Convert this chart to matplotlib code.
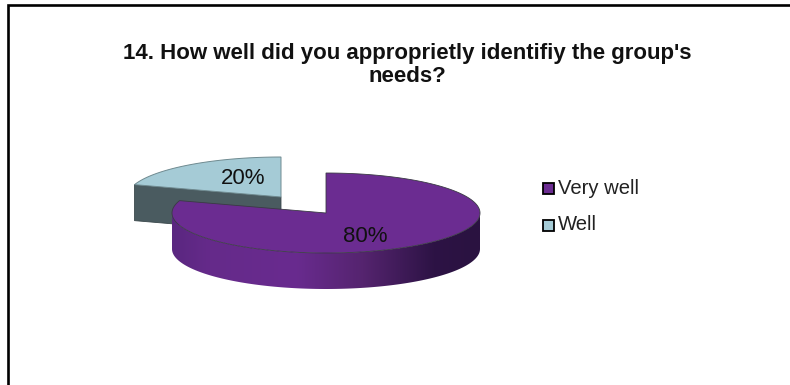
import numpy as np
import matplotlib
matplotlib.use('Agg')
import matplotlib.pyplot as plt
from matplotlib.colors import LinearSegmentedColormap
from matplotlib.patches import Polygon, Rectangle

title_lines = ["14. How well did you approprietly identifiy the group's", "needs?"]
categories = ['Very well', 'Well']
shares = [80, 20]
top_colors = ['#6b2c91', '#a5cbd6']
side_color_well = '#4a5b60'

plt.rcParams['font.family'] = ['Liberation Sans', 'DejaVu Sans']

# pie geometry, in pixels
RX, RY, DEPTH = 154, 40, 36
CENTER_VERY_WELL = (326, 213)
CENTER_WELL = (281, 197)
EDGE = '#3a3a44'


def rim(center, start, stop, drop=0):
    # points along the elliptical rim, angles in degrees clockwise from 12 o'clock
    t = np.radians(90 - np.linspace(start, stop, 200))
    return np.column_stack((center[0] + RX * np.cos(t),
                            center[1] - RY * np.sin(t) + drop))


fig = plt.figure(figsize=(7.9, 3.85), dpi=100)
ax = fig.add_axes([0, 0, 1, 1])
ax.set_xlim(0, 790)
ax.set_ylim(385, 0)
ax.axis('off')

# frame, only left and top sides show
ax.plot([8, 8, 790], [385, 5, 5], color='black', lw=1.9, solid_joinstyle='miter')

ax.text(407, 53, title_lines[0], ha='center', va='center', fontsize=16, fontweight='bold', color='#111111')
ax.text(407, 76, title_lines[1], ha='center', va='center', fontsize=16, fontweight='bold', color='#111111')

# slices run clockwise from the top, the larger one first
sweep = np.cumsum([0] + shares) / sum(shares) * 360

# exploded "Well" slice: cut face, then top
well_top = rim(CENTER_WELL, sweep[1], sweep[2])
corner = well_top[0]
cx, cy = CENTER_WELL
face = [corner, (cx, cy), (cx, cy + DEPTH), (corner[0], corner[1] + DEPTH)]
ax.add_patch(Polygon(face, closed=True, fc=side_color_well, ec='#39474b', lw=0.6, zorder=2))
ax.add_patch(Polygon(np.vstack((well_top, [CENTER_WELL])), closed=True,
                     fc=top_colors[1], ec='#6f8a90', lw=0.7, zorder=3))

# "Very well" slice: outer wall with a horizontal shade, then top
upper = rim(CENTER_VERY_WELL, 90, 270)
lower = rim(CENTER_VERY_WELL, 90, 270, drop=DEPTH)
wall = Polygon(np.vstack((upper, lower[::-1])), closed=True, fc='none', ec='none', zorder=4)
ax.add_patch(wall)
shade = LinearSegmentedColormap.from_list('wall', [(0, '#5a2780'), (0.12, '#652a8a'), (0.4, '#692b8f'),
                                                    (0.62, '#55246f'), (0.85, '#2d1345'), (1, '#2a1240')])
x0, x1 = CENTER_VERY_WELL[0] - RX, CENTER_VERY_WELL[0] + RX
img = ax.imshow(np.linspace(0, 1, 256)[None, :], cmap=shade, aspect='auto', zorder=4,
                extent=(x0, x1, CENTER_VERY_WELL[1] + RY + DEPTH, CENTER_VERY_WELL[1]))
img.set_clip_path(wall)
ax.set_xlim(0, 790)
ax.set_ylim(385, 0)

very_well_top = rim(CENTER_VERY_WELL, sweep[0], sweep[1])
ax.add_patch(Polygon(np.vstack((very_well_top, [CENTER_VERY_WELL])), closed=True,
                     fc=top_colors[0], ec=EDGE, lw=0.6, zorder=6))

# value labels
ax.text(365, 236, f'{shares[0]}%', ha='center', va='center', fontsize=16, color='#111111', zorder=7)
ax.text(243, 179, f'{shares[1]}%', ha='center', va='center', fontsize=16, color='#111111', zorder=7)

# legend
for y, name, color in zip([188, 225], categories, top_colors):
    ax.add_patch(Rectangle((542.5, y - 5), 11, 10.5, fc=color, ec='black', lw=1.3, zorder=7))
    ax.text(558, y, name, ha='left', va='center', fontsize=14.6, color='#222222')

fig.savefig('out.png', dpi=100)
